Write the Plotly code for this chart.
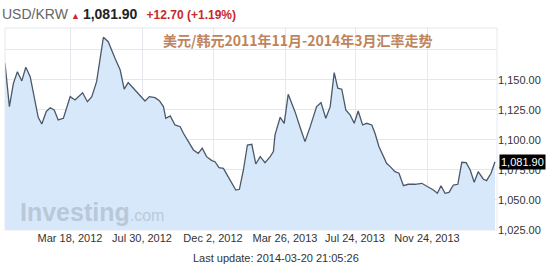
import plotly.graph_objects as go

# trading-week index (0 = late Nov 2011) and USD/KRW closing values
week = [0, 1.1, 2.1, 3.1, 4.2, 5.2, 6.3, 7.1, 8.3, 9.2, 10.3, 11.3, 12.3, 13.3, 14.6,
        16.3, 17.5, 19.4, 20.6, 21.7, 22.9, 24.6, 25.8, 27.5, 28.8, 29.8, 30.8, 32.1,
        33.8, 35.0, 36.1, 37.5, 38.6, 39.6, 40.2, 41.3, 42.5, 43.8, 44.6, 46.0, 47.1,
        48.3, 49.3, 50.4, 51.7, 52.5, 53.5, 54.6, 56.3, 57.7, 58.6, 59.6, 60.6, 61.7,
        62.7, 63.8, 65.0, 66.3, 67.1, 67.5, 68.8, 69.8, 70.8, 72.5, 74.0, 75.0, 76.3,
        77.9, 79.0, 80.2, 81.3, 82.3, 83.2, 84.2, 85.2, 86.3, 87.3, 88.3, 89.4, 90.4,
        91.7, 92.5, 93.5, 94.4, 95.4, 96.3, 97.5, 98.5, 99.6, 100.8, 102.5, 104.2,
        105.8, 107.1, 108.1, 109.0, 110.0, 111.0, 112.1, 113.2, 114.2, 115.3, 116.3,
        117.3, 118.3, 119.6, 120.4, 121.5, 122.5]
rate = [1163.9, 1127.8, 1147.2, 1156.9, 1149.2, 1160.6, 1152.8, 1138.9, 1118.9, 1113.3,
        1123.6, 1126.9, 1125.0, 1116.7, 1118.1, 1136.1, 1133.3, 1139.4, 1131.9, 1136.1,
        1148.6, 1185.6, 1181.9, 1168.1, 1158.3, 1142.3, 1147.8, 1143.1, 1136.7, 1132.5,
        1136.1, 1135.3, 1132.8, 1127.8, 1118.1, 1120.0, 1112.5, 1111.1, 1105.6, 1097.3,
        1091.7, 1088.9, 1093.1, 1086.1, 1082.8, 1081.9, 1076.9, 1076.4, 1066.7, 1058.3,
        1058.9, 1075.0, 1095.8, 1096.4, 1080.0, 1086.1, 1081.1, 1086.1, 1090.3, 1104.2,
        1118.9, 1113.9, 1138.1, 1123.6, 1108.3, 1098.6, 1111.1, 1127.8, 1131.1, 1118.1,
        1127.8, 1156.1, 1143.1, 1142.3, 1125.0, 1120.8, 1113.9, 1124.2, 1112.5, 1113.9,
        1112.5, 1105.6, 1094.4, 1087.5, 1080.6, 1077.8, 1073.6, 1072.3, 1061.9, 1063.1,
        1063.1, 1063.9, 1061.1, 1058.3, 1055.6, 1061.9, 1055.6, 1056.4, 1062.5, 1063.1,
        1081.4, 1081.1, 1075.0, 1064.8, 1073.6, 1067.3, 1066.1, 1072.3, 1081.9]

x_tick_pos = [16.25, 34.25, 52.0, 70.0, 87.5, 105.5]
x_tick_text = ["Mar 18, 2012", "Jul 30, 2012", "Dec 2, 2012", "Mar 26, 2013",
               "Jul 24, 2013", "Nov 24, 2013"]
y_tick_vals = [1025, 1050, 1075, 1100, 1125, 1150, 1175]
y_tick_text = ["1,025.00", "1,050.00", "1,075.00", "1,100.00", "1,125.00", "1,150.00", ""]
last_price = 1081.90
change_text = "+12.70 (+1.19%)"
title_cn = "美元/韩元2011年11月-2014年3月汇率走势"
update_text = "Last update: 2014-03-20 21:05:26"

fig = go.Figure()
fig.add_trace(go.Scatter(
    x=week, y=rate, mode="lines",
    line=dict(color="#4b5868", width=1.3),
    fill="tozeroy", fillcolor="#d7e8fb", hoverinfo="skip"))

fig.add_hline(y=last_price, line=dict(color="#555555", width=1.6))

fig.update_layout(
    width=550, height=267,
    margin=dict(l=5, r=53, t=28, b=37),
    paper_bgcolor="white", plot_bgcolor="white",
    showlegend=False,
    font=dict(family="Arial, Liberation Sans, sans-serif", size=11, color="#333333"),
    xaxis=dict(range=[0, 123], tickvals=x_tick_pos, ticktext=x_tick_text,
               showgrid=True, gridcolor="#e4e8ee", gridwidth=1, zeroline=False,
               showline=False, ticks="", tickfont=dict(size=11, color="#333333"),
               mirror=False),
    yaxis=dict(range=[1025, 1193.3], side="right", tickvals=y_tick_vals,
               ticktext=y_tick_text, showgrid=True, gridcolor="#e4e8ee", gridwidth=1,
               zeroline=False, showline=False, ticks="",
               tickfont=dict(size=11, color="#333333")),
    shapes=[dict(type="rect", xref="paper", yref="paper", x0=0, x1=1, y0=0, y1=1,
                 line=dict(color="#e4e8ee", width=1), layer="above")],
)

# header
fig.add_annotation(xref="paper", yref="paper", x=-5/492, y=1 + 14/202, xanchor="left",
                   yanchor="middle", showarrow=False,
                   text="<span style='color:#666666;font-size:14px'>USD/KRW</span>"
                        " <span style='color:#d1262d;font-size:9px'>&#9650;</span>"
                        " <b style='color:#222222;font-size:14px'>1,081.90</b>"
                        "   <b style='color:#c8282e;font-size:12px'>" + change_text + "</b>")
fig.add_annotation(xref="paper", yref="paper", x=292/492, y=1 - 12/202, xanchor="center",
                   yanchor="middle", showarrow=False,
                   text="<b>" + title_cn + "</b>",
                   font=dict(family="Noto Sans CJK SC", size=14, color="#c0845c"))
# watermark
fig.add_annotation(xref="paper", yref="paper", x=13/492, y=18/202, xanchor="left",
                   yanchor="middle", showarrow=False,
                   text="<b style='font-size:25px'>Investing</b><span style='font-size:16px'>.com</span>",
                   font=dict(family="Arial, Liberation Sans, sans-serif", color="#b9c8d8"))
# last price label
fig.add_annotation(xref="paper", yref="y", x=1, y=last_price, xanchor="left",
                   yanchor="middle", showarrow=False, text="1,081.90",
                   bgcolor="#000000", font=dict(size=11, color="white"),
                   borderpad=1, xshift=2)
# last update
fig.add_annotation(xref="paper", yref="paper", x=271/492, y=-28/202, xanchor="center",
                   yanchor="middle", showarrow=False, text=update_text,
                   font=dict(size=11, color="#333333"))

fig.write_html("out.html")
